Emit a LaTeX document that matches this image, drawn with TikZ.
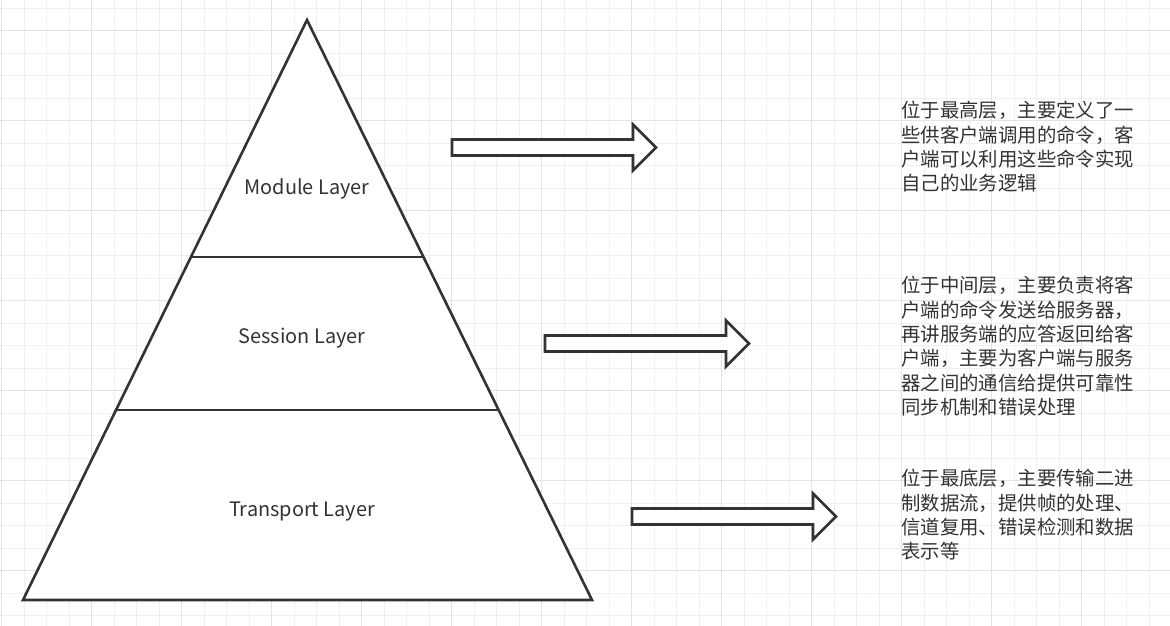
\documentclass[tikz,border=0pt]{standalone}
\usepackage{fontspec}
\usetikzlibrary{calc}
\newfontfamily\cjk{Noto Sans CJK SC}
\definecolor{gridminor}{HTML}{F0F0F0}
\definecolor{gridmajor}{HTML}{E3E3E3}
\definecolor{ink}{HTML}{333333}
\tikzset{
  minorline/.style={draw=gridminor, line width=1pt},
  majorline/.style={draw=gridmajor, line width=1pt},
  shapeline/.style={draw=ink, line width=2.6pt, line join=miter, fill=white},
  layerlabel/.style={font=\cjk\fontsize{19.9}{23}\selectfont, text=ink, inner sep=0pt},
  desc/.style={font=\cjk\fontsize{19.4}{24.4}\selectfont, text=ink, align=left, inner sep=0pt, anchor=north west},
  blockarr/.pic={\draw[shapeline] (0,-8) -- (181,-8) -- (181,-23) -- (204,0) -- (181,23) -- (181,8) -- (0,8) -- cycle;}
}
\begin{document}
\begin{tikzpicture}[x=1pt,y=-1pt]
\useasboundingbox (0,0) rectangle (1170,626);
\fill[white] (0,0) rectangle (1170,626);
% grid
\foreach \i in {0,...,52} {
  \pgfmathsetmacro\xx{1.7+22.5*\i}
  \draw[minorline] (\xx,0) -- (\xx,626);
}
\foreach \i in {0,...,27} {
  \pgfmathsetmacro\yy{8.3+22.5*\i}
  \draw[minorline] (0,\yy) -- (1170,\yy);
}
\foreach \i in {0,...,13} {
  \pgfmathsetmacro\xx{1.7+90*\i}
  \draw[majorline] (\xx,0) -- (\xx,626);
}
\foreach \i in {0,...,6} {
  \pgfmathsetmacro\yy{30.7+90*\i}
  \draw[majorline] (0,\yy) -- (1170,\yy);
}
% pyramid
\coordinate (apex) at (307,20);
\coordinate (bl) at (23,600);
\coordinate (br) at (592,600);
\draw[shapeline] (apex) -- (br) -- (bl) -- cycle;
\draw[shapeline] ($(apex)!0.4086!(bl)$) -- ($(apex)!0.4086!(br)$);
\draw[shapeline] ($(apex)!0.6724!(bl)$) -- ($(apex)!0.6724!(br)$);
\node[layerlabel] (m) at (307,188.5) {Module Layer};
\node[layerlabel] (s) at (302,338.5) {Session Layer};
\node[layerlabel] (t) at (302,511.5) {Transport Layer};
% arrows
\pic at (452,147.5) {blockarr};
\pic at (545,343.5) {blockarr};
\pic at (632,516.5) {blockarr};
% descriptions
\node[desc] (d1) at (901,101) {位于最高层，主要定义了一\\些供客户端调用的命令，客\\户端可以利用这些命令实现\\自己的业务逻辑};
\node[desc] (d2) at (901,276) {位于中间层，主要负责将客\\户端的命令发送给服务器，\\再讲服务端的应答返回给客\\户端，主要为客户端与服务\\器之间的通信给提供可靠性\\同步机制和错误处理};
\node[desc] (d3) at (901,469) {位于最底层，主要传输二进\\制数据流，提供帧的处理、\\信道复用、错误检测和数据\\表示等};
\end{tikzpicture}
\end{document}
